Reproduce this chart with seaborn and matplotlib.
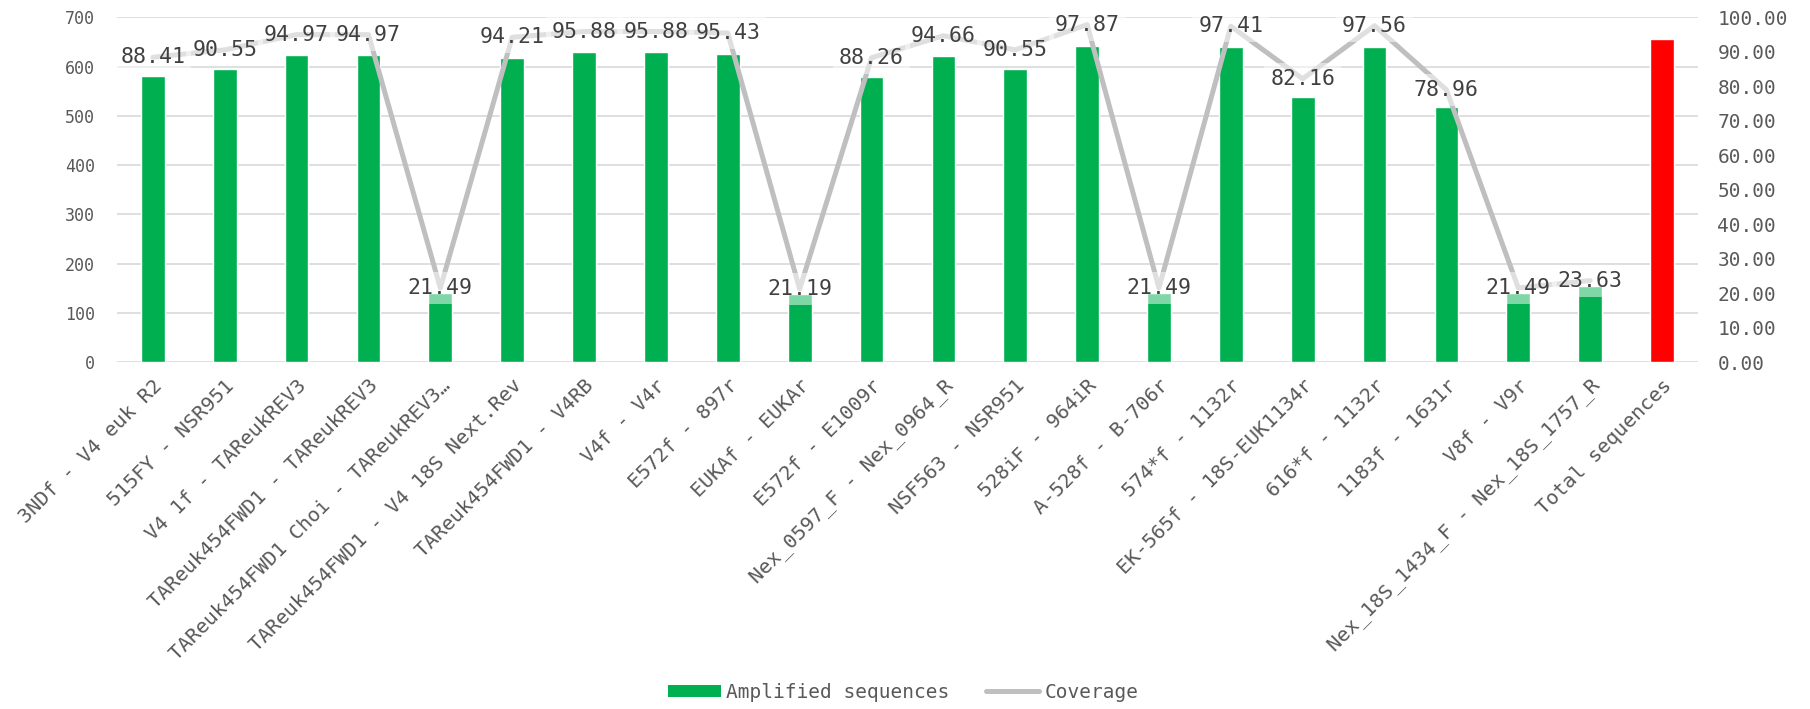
import numpy as np
import pandas as pd
import matplotlib
matplotlib.use("Agg")
import matplotlib.pyplot as plt
from matplotlib.patches import Patch
from matplotlib.lines import Line2D
import seaborn as sns

# Primer pairs and their results
categories = [
    "3NDf - V4 euk R2",
    "515FY - NSR951",
    "V4 1f - TAReukREV3",
    "TAReuk454FWD1 - TAReukREV3",
    "TAReuk454FWD1 Choi - TAReukREV3…",
    "TAReuk454FWD1 - V4 18S Next.Rev",
    "TAReuk454FWD1 - V4RB",
    "V4f - V4r",
    "E572f - 897r",
    "EUKAf - EUKAr",
    "E572f - E1009r",
    "Nex_0597_F - Nex_0964_R",
    "NSF563 - NSR951",
    "528iF - 964iR",
    "A-528f - B-706r",
    "574*f - 1132r",
    "EK-565f - 18S-EUK1134r",
    "616*f - 1132r",
    "1183f - 1631r",
    "V8f - V9r",
    "Nex_18S_1434_F - Nex_18S_1757_R",
    "Total sequences",
]
amplified = [580, 594, 623, 623, 141, 618, 629, 629, 626, 139, 579,
             621, 594, 642, 141, 639, 539, 640, 518, 141, 155, 656]
coverage = [88.41, 90.55, 94.97, 94.97, 21.49, 94.21, 95.88, 95.88, 95.43,
            21.19, 88.26, 94.66, 90.55, 97.87, 21.49, 97.41, 82.16, 97.56,
            78.96, 21.49, 23.63]

GREEN = "#00B050"
RED = "#FF0000"
LINE_GREY = "#BFBFBF"
GRID = "#D9D9D9"
TICK_TXT = "#595959"
LABEL_TXT = "#404040"

sns.set_theme(style="white")
plt.rcParams["font.family"] = ["DejaVu Sans Mono", "DejaVu Sans"]

df = pd.DataFrame({"pair": categories, "amplified": amplified})
df["kind"] = ["primer"] * (len(categories) - 1) + ["total"]

fig = plt.figure(figsize=(18.10, 7.09), dpi=100)
ax = fig.add_axes([0.0646, 0.4894, 0.8735, 0.4862])

sns.barplot(data=df, x="pair", y="amplified", hue="kind",
            palette={"primer": GREEN, "total": RED}, width=0.33,
            dodge=False, legend=False, ax=ax, zorder=2, saturation=1)

ax.set_ylim(0, 700)
ax.set_yticks(range(0, 701, 100))
ax.set_xlim(-0.5, len(categories) - 0.5)
ax.yaxis.grid(True, color=GRID, linewidth=1.2, zorder=0)
ax.set_axisbelow(True)
for s in ax.spines.values():
    s.set_visible(False)
ax.set_xlabel("")
ax.set_ylabel("")
ax.tick_params(axis="y", length=0, pad=16, labelsize=12, labelcolor=TICK_TXT)
ax.tick_params(axis="x", length=0, pad=10, labelsize=14.5, labelcolor=TICK_TXT)
ax.set_xticks(range(len(categories)))
ax.set_xticklabels(categories, rotation=45, ha="right", rotation_mode="anchor")

# Coverage on the secondary axis
ax2 = ax.twinx()
xpos = np.arange(len(coverage))
sns.lineplot(x=xpos, y=coverage, ax=ax2, color=LINE_GREY, linewidth=3.6,
             sort=False, zorder=3)
ax2.set_ylim(0, 100)
ax2.set_yticks(np.arange(0, 101, 10))
ax2.set_yticklabels([f"{v:.2f}" for v in np.arange(0, 101, 10)])
ax2.tick_params(axis="y", length=0, pad=14, labelsize=14, labelcolor=TICK_TXT)
ax2.set_ylabel("")
ax2.grid(False)
for s in ax2.spines.values():
    s.set_visible(False)

for x, v in zip(xpos, coverage):
    ax2.text(x, v, f"{v:.2f}", ha="center", va="center", fontsize=15.5,
             color=LABEL_TXT, zorder=4,
             bbox=dict(boxstyle="square,pad=0.28", facecolor="white",
                       edgecolor="none", alpha=0.5))

handles = [Patch(facecolor=GREEN, edgecolor="none"),
           Line2D([0], [0], color=LINE_GREY, linewidth=3.6)]
fig.legend(handles, ["Amplified sequences", "Coverage"], loc="center",
           bbox_to_anchor=(0.499, 1 - 692 / 709), ncol=2, frameon=False,
           fontsize=14, handlelength=2.7, handleheight=0.57,
           handletextpad=0.28, columnspacing=1.9, labelcolor=TICK_TXT)

fig.savefig("out.png", dpi=100)
